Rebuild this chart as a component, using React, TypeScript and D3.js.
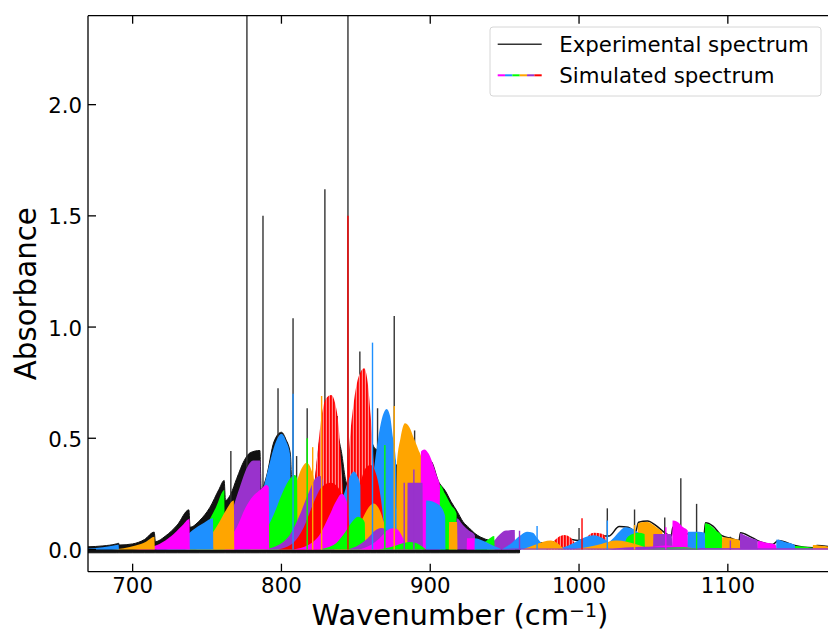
import React from "react";
import * as d3 from "d3";

// ---- data (wavenumber, absorbance) ----
const xTicks = [700, 800, 900, 1000, 1100];
const yTicks = [0, 0.5, 1.0, 1.5, 2.0];

const COLORS: Record<string, string> = {
  B: "#1e90ff",
  O: "#ffa500",
  M: "#ff00ff",
  G: "#00ff00",
  P: "#9932cc",
  R: "#ff0000",
};
const legendColors = ["M", "B", "G", "O", "P", "R"];

// experimental envelope, 670-960 (dense noisy trace, drawn as a filled band)
const expEnvelope: [number, number][] = [
  [670, 0.012], [680, 0.016], [689, 0.025], [690.5, 0.028], [691.2, 0.02],
  [700, 0.025], [708, 0.045], [714.5, 0.078], [715.3, 0.035], [722, 0.06],
  [730, 0.11], [737.8, 0.178], [738.6, 0.1], [745, 0.13], [752, 0.19],
  [758, 0.27], [761.5, 0.31], [762.4, 0.22], [766, 0.25], [770, 0.32],
  [775, 0.4], [779, 0.435], [785.5, 0.445], [786.4, 0.27], [790, 0.33],
  [795, 0.485], [800, 0.527], [803, 0.495], [806, 0.43], [807, 0.3],
  [810, 0.3], [817, 0.36], [822, 0.3], [826, 0.5], [833, 0.6],
  [840, 0.45], [844, 0.3], [848, 0.33], [852, 0.6], [856, 0.7],
  [860, 0.5], [864, 0.45], [870, 0.55], [876, 0.38], [878, 0.38],
  [883, 0.5], [890, 0.45], [895, 0.4], [900, 0.4], [906, 0.3],
  [910, 0.265], [914, 0.215], [918, 0.172], [922, 0.125], [926, 0.098],
  [930, 0.072], [934, 0.055], [940, 0.04], [946, 0.028], [952, 0.018],
  [958, 0.01], [960, 0.006],
];

// experimental trace beyond 960
const expTail: [number, number][] = [
  [960, 0.0], [970, 0.03], [980, 0.03], [990, 0.05], [1000, 0.04],
  [1010, 0.06], [1020, 0.06], [1027, 0.103], [1033, 0.1], [1038, 0.08],
  [1040, 0.122], [1046, 0.128], [1052, 0.106], [1056, 0.084], [1062, 0.06],
  [1063, 0.1], [1070, 0.09], [1073, 0.07], [1080, 0.07], [1084, 0.07],
  [1085, 0.12], [1090, 0.105], [1096, 0.062], [1102, 0.05], [1107.5, 0.04],
  [1108.5, 0.075], [1115, 0.058], [1120, 0.04], [1130, 0.022], [1134, 0.04],
  [1145, 0.018], [1157, 0.008], [1160, 0.018], [1170, 0.01],
];

// sharp experimental lines
const expSpikes: [number, number][] = [
  [766, 0.443], [776.8, 2.5], [787.6, 1.5], [797.7, 0.725], [807.8, 1.04],
  [810.2, 0.42], [817.3, 0.635], [829.2, 1.62], [837.5, 0.6], [844.7, 2.5],
  [852.7, 0.89], [864.6, 0.635], [875.8, 1.05], [889.5, 0.535],
  [1000, 0.097], [1019, 0.185], [1037.3, 0.18], [1057.6, 0.144],
  [1068.4, 0.32], [1079, 0.205], [1101.7, 0.057],
];

// simulated vibrational bands: [colour, striped, outline points]
const simBands: [string, boolean, [number, number][]][] = [
  ["B", false, [[668, 0.004], [680, 0.01], [689, 0.02], [690.5, 0.022], [690.8, 0]]],
  ["O", false, [[686, 0], [694, 0.006], [702, 0.018], [709, 0.035], [714.6, 0.057], [714.9, 0]]],
  ["M", false, [[700, 0], [710, 0.008], [718, 0.025], [726, 0.06], [733, 0.105], [738.2, 0.137], [738.5, 0]]],
  ["B", false, [[715, 0], [725, 0.015], [733, 0.045], [740, 0.085], [748, 0.12], [754, 0.14], [754.3, 0]]],
  ["G", false, [[722, 0], [732, 0.012], [741, 0.045], [749, 0.105], [756, 0.19], [761.6, 0.267], [761.9, 0]]],
  ["O", false, [[735, 0], [745, 0.02], [752, 0.06], [758, 0.12], [763, 0.18], [768, 0.22], [768.3, 0]]],
  ["P", false, [[742, 0], [752, 0.02], [760, 0.07], [766, 0.16], [772, 0.28], [777, 0.37], [781, 0.4], [785.8, 0.4], [786.1, 0]]],
  ["M", false, [[752, 0], [762, 0.03], [770, 0.1], [776, 0.19], [781, 0.24], [786, 0.27], [790, 0.29], [791.5, 0.28], [791.8, 0]]],
  ["B", false, [[760, 0], [770, 0.02], [778, 0.08], [785, 0.2], [791, 0.36], [796, 0.48], [800, 0.52], [803, 0.49], [806, 0.42], [806.3, 0]]],
  ["G", false, [[770, 0], [780, 0.02], [788, 0.07], [795, 0.16], [801, 0.26], [806, 0.32], [809, 0.335], [810.5, 0.32], [810.8, 0]]],
  ["O", false, [[778, 0], [788, 0.02], [796, 0.07], [803, 0.16], [809, 0.28], [814, 0.37], [817, 0.39], [820, 0.36], [822, 0.31], [822.3, 0]]],
  ["P", false, [[788, 0], [798, 0.02], [806, 0.07], [812, 0.15], [818, 0.25], [823, 0.32], [826, 0.33], [828, 0.31], [828.3, 0]]],
  ["R", false, [[798, 0], [808, 0.03], [815, 0.1], [821, 0.2], [827, 0.28], [833, 0.3], [838, 0.28], [842, 0.22], [845, 0.14], [847, 0]]],
  ["R", true, [[815, 0], [820, 0.15], [824, 0.42], [827, 0.6], [830, 0.68], [833.5, 0.695], [836, 0.66], [838.5, 0.55], [840, 0.4], [842, 0.2], [844, 0]]],
  ["M", false, [[808, 0], [818, 0.02], [826, 0.07], [832, 0.15], [837, 0.22], [840.5, 0.25], [843, 0.23], [845, 0.18], [845.3, 0]]],
  ["B", false, [[815, 0], [825, 0.02], [832, 0.07], [838, 0.16], [843, 0.27], [847, 0.34], [849, 0.35], [851, 0.33], [853, 0.29], [853.3, 0]]],
  ["R", false, [[835, 0], [843, 0.06], [848, 0.16], [853, 0.3], [857, 0.37], [860, 0.38], [864, 0.33], [867, 0.22], [869, 0.1], [871, 0]]],
  ["R", true, [[840, 0], [843, 0.2], [846, 0.5], [849, 0.68], [852, 0.78], [855.6, 0.815], [858, 0.75], [860, 0.6], [862, 0.4], [864, 0.2], [866, 0]]],
  ["G", false, [[825, 0], [835, 0.02], [842, 0.07], [847, 0.12], [851.5, 0.147], [854, 0.14], [856, 0.12], [856.3, 0]]],
  ["O", false, [[835, 0], [845, 0.03], [851, 0.09], [856, 0.16], [860, 0.2], [862, 0.207], [865, 0.19], [868, 0.14], [869.5, 0.1], [869.8, 0]]],
  ["B", false, [[850, 0], [855, 0.05], [859, 0.18], [862, 0.35], [865, 0.5], [868, 0.6], [870.7, 0.632], [873, 0.6], [875, 0.5], [877, 0.4], [878, 0]]],
  ["P", false, [[845, 0], [852, 0.02], [858, 0.05], [863, 0.085], [867, 0.096], [870, 0.09], [873, 0.07], [873.3, 0]]],
  ["M", false, [[852, 0], [860, 0.02], [866, 0.05], [871, 0.085], [875, 0.095], [878, 0.09], [881, 0.06], [883, 0.03], [885, 0]]],
  ["G", false, [[865, 0], [873, 0.01], [880, 0.025], [886, 0.034], [890, 0.03], [894, 0.015], [897, 0]]],
  ["O", false, [[877.3, 0], [877.6, 0.38], [880, 0.5], [883, 0.567], [886, 0.55], [889, 0.5], [892, 0.45], [894.5, 0.4], [894.8, 0]]],
  ["P", false, [[884.6, 0], [884.8, 0.3], [894.8, 0.3], [895, 0]]],
  ["M", false, [[893.5, 0], [893.8, 0.44], [896, 0.45], [899, 0.43], [902, 0.38], [905, 0.32], [906.5, 0.29], [906.8, 0]]],
  ["B", false, [[897, 0], [897.3, 0.22], [906, 0.2], [910, 0.15], [910.3, 0]]],
  ["G", false, [[906.4, 0], [906.6, 0.29], [910, 0.25], [914, 0.2], [917.7, 0.162], [918, 0]]],
  ["O", false, [[912.5, 0], [912.7, 0.124], [918, 0.124], [918.3, 0]]],
  ["P", false, [[917.6, 0], [917.8, 0.14], [922, 0.11], [926, 0.085], [930, 0.064], [930.3, 0]]],
  ["M", false, [[924.5, 0], [924.7, 0.05], [930, 0.05], [930.3, 0]]],
  ["B", false, [[929.8, 0], [930, 0.05], [935, 0.04], [940, 0.025], [945, 0.01], [948, 0]]],
  ["G", false, [[930, 0], [934, 0.02], [938, 0.04], [941, 0.055], [943, 0.06], [943.3, 0]]],
  ["P", false, [[938, 0], [943, 0.04], [947, 0.07], [951, 0.085], [956.8, 0.087], [957, 0]]],
  ["B", false, [[948, 0], [955, 0.03], [960, 0.06], [965, 0.08], [969, 0.075], [972, 0.05], [976, 0.02], [980, 0]]],
  ["O", false, [[962, 0], [970, 0.02], [976, 0.035], [981, 0.04], [985, 0.03], [990, 0]]],
  ["R", true, [[978, 0], [982, 0.03], [986, 0.055], [990, 0.065], [994, 0.055], [997, 0.03], [1000, 0]]],
  ["B", false, [[985, 0], [992, 0.015], [998, 0.035], [1004, 0.055], [1010, 0.064], [1016, 0.05], [1020, 0.03], [1025, 0]]],
  ["R", true, [[1005, 0], [1006, 0.06], [1010, 0.075], [1016, 0.07], [1018, 0.05], [1019, 0]]],
  ["O", false, [[995, 0], [1005, 0.01], [1015, 0.025], [1025, 0.04], [1032, 0.035], [1040, 0.02], [1048, 0]]],
  ["B", false, [[1012, 0], [1018, 0.02], [1023, 0.05], [1027, 0.08], [1031, 0.1], [1035, 0.095], [1039, 0.08], [1042, 0.06], [1042.3, 0]]],
  ["G", false, [[1030, 0], [1032, 0.05], [1036, 0.07], [1040, 0.075], [1044, 0.07], [1044.3, 0]]],
  ["O", false, [[1039.3, 0], [1039.5, 0.115], [1042, 0.122], [1046, 0.124], [1050, 0.11], [1054, 0.09], [1056, 0.08], [1056.3, 0]]],
  ["P", false, [[1049.8, 0], [1050, 0.07], [1062, 0.07], [1063, 0]]],
  ["M", false, [[1062.7, 0], [1062.9, 0.13], [1066, 0.125], [1070, 0.1], [1073, 0.085], [1073.3, 0]]],
  ["B", false, [[1073, 0], [1073.2, 0.08], [1080, 0.08], [1084.5, 0.075], [1084.8, 0]]],
  ["G", false, [[1084.5, 0], [1084.7, 0.118], [1088, 0.11], [1092, 0.085], [1096, 0.06], [1096.3, 0]]],
  ["O", false, [[1096, 0], [1096.2, 0.055], [1102, 0.05], [1108, 0.04], [1108.3, 0]]],
  ["P", false, [[1108, 0], [1108.2, 0.073], [1112, 0.062], [1116, 0.05], [1120, 0.04], [1120.3, 0]]],
  ["M", false, [[1120, 0], [1120.2, 0.038], [1126, 0.03], [1132, 0.022], [1132.8, 0]]],
  ["B", false, [[1132.5, 0], [1132.7, 0.045], [1138, 0.035], [1145, 0.02], [1145.3, 0]]],
  ["G", false, [[1145, 0], [1145.2, 0.015], [1157, 0.008], [1157.3, 0]]],
  ["O", false, [[1157, 0], [1157.2, 0.02], [1165, 0.015], [1172, 0.01]]],
  ["M", false, [[1030, 0], [1045, 0.01], [1058, 0.018], [1068, 0.015], [1080, 0]]],
  ["G", false, [[1045, 0], [1060, 0.008], [1070, 0.01], [1082, 0]]],
  ["P", false, [[1020, 0], [1035, 0.01], [1050, 0.012], [1065, 0.01], [1080, 0.005], [1172, 0.004]]],
  ["P", false, [[940, 0], [960, 0.004], [1172, 0.004]]],
];

// strong simulated lines: [wavenumber, absorbance, colour]
const simSticks: [number, number, string][] = [
  [807.8, 0.7, "B"], [817.3, 0.5, "G"], [821, 0.46, "O"], [827, 0.69, "O"],
  [844.7, 1.5, "R"], [861.2, 0.93, "B"], [869.5, 0.47, "G"], [875.8, 0.645, "O"],
  [882.5, 0.3, "P"], [889, 0.36, "P"], [960, 0.084, "P"], [971.8, 0.105, "B"],
  [1002, 0.14, "R"], [1019, 0.13, "B"], [1037.3, 0.11, "O"], [1058.3, 0.1, "M"],
  [1079, 0.075, "G"], [1101.7, 0.04, "P"],
];

const FONT = "DejaVu Sans, sans-serif";

export default function App() {
  const W = 828;
  const H = 632;
  const left = 88;
  const top = 15.7;
  const bottom = 571.7;
  const right = 832;

  const x = d3.scaleLinear().domain([670, 1170]).range([left, right]);
  const y = d3.scaleLinear().domain([-0.1, 2.4]).range([bottom, top]);

  const bandArea = d3
    .area<[number, number]>()
    .x((d) => x(d[0]))
    .y0(y(0))
    .y1((d) => y(d[1]))
    .curve(d3.curveMonotoneX);

  const expArea = d3
    .area<[number, number]>()
    .x((d) => x(d[0]))
    .y0(y(-0.015))
    .y1((d) => y(d[1]))
    .curve(d3.curveMonotoneX);

  const expLine = d3
    .line<[number, number]>()
    .x((d) => x(d[0]))
    .y((d) => y(d[1]))
    .curve(d3.curveMonotoneX);

  // taller bands first, smaller ones on top
  const bands = [...simBands].sort(
    (a, b) => (d3.max(b[2], (d) => d[1]) ?? 0) - (d3.max(a[2], (d) => d[1]) ?? 0)
  );

  const segW = 44 / legendColors.length;

  return (
    <div style={{ position: "absolute", left: 0, top: 0 }}>
      <svg width={W} height={H} style={{ display: "block", background: "#fff" }}>
        <defs>
          <clipPath id="plot">
            <rect x={left} y={top} width={right - left} height={bottom - top} />
          </clipPath>
          <pattern id="redStripe" patternUnits="userSpaceOnUse" width={3} height={10}>
            <rect width={3} height={10} fill="#ff8c8c" />
            <rect width={1.8} height={10} fill="#ff0000" />
          </pattern>
        </defs>

        <g clipPath="url(#plot)">
          {/* experimental */}
          <path d={expArea(expEnvelope) ?? ""} fill="#111" stroke="#111" strokeWidth={1} />
          <path d={expLine(expTail) ?? ""} fill="none" stroke="#111" strokeWidth={1.5} />
          {expSpikes.map(([wn, a], i) => (
            <line
              key={"s" + i}
              x1={x(wn)}
              x2={x(wn)}
              y1={y(0)}
              y2={y(a)}
              stroke="#333"
              strokeWidth={1.4}
            />
          ))}

          {/* simulated */}
          {bands.map(([c, striped, pts], i) => (
            <path
              key={"b" + i}
              d={bandArea(pts) ?? ""}
              fill={striped ? "url(#redStripe)" : COLORS[c]}
            />
          ))}
          {simSticks.map(([wn, a, c], i) => (
            <line
              key={"k" + i}
              x1={x(wn)}
              x2={x(wn)}
              y1={y(0)}
              y2={y(a)}
              stroke={COLORS[c]}
              strokeWidth={1.4}
            />
          ))}
        </g>

        {/* spines */}
        <g stroke="#000" strokeWidth={1.3} fill="none">
          <line x1={left} x2={left} y1={top} y2={bottom} />
          <line x1={left} x2={right} y1={bottom} y2={bottom} />
          <line x1={left} x2={right} y1={top} y2={top} />
        </g>

        {/* x ticks (inward, bottom and top) */}
        {xTicks.map((t) => (
          <g key={"xt" + t}>
            <line x1={x(t)} x2={x(t)} y1={bottom} y2={bottom - 8} stroke="#000" strokeWidth={1.3} />
            <line x1={x(t)} x2={x(t)} y1={top} y2={top + 8} stroke="#000" strokeWidth={1.3} />
            <text
              x={x(t)}
              y={592.7}
              textAnchor="middle"
              fontFamily={FONT}
              fontSize={21.3}
              fill="#000"
            >
              {t}
            </text>
          </g>
        ))}

        {/* y ticks */}
        {yTicks.map((t) => (
          <g key={"yt" + t}>
            <line x1={left} x2={left + 8} y1={y(t)} y2={y(t)} stroke="#000" strokeWidth={1.3} />
            <text
              x={82}
              y={y(t) + 8.6}
              textAnchor="end"
              fontFamily={FONT}
              fontSize={21.3}
              fill="#000"
            >
              {d3.format(".1f")(t)}
            </text>
          </g>
        ))}

        {/* axis labels */}
        <text
          x={(left + right) / 2}
          y={625}
          textAnchor="middle"
          fontFamily={FONT}
          fontSize={29}
          fill="#000"
        >
          Wavenumber (cm
          <tspan fontSize={19} dy={-8.5}>
            −1
          </tspan>
          <tspan dy={8.5}>)</tspan>
        </text>
        <text
          transform={`translate(36, ${(top + bottom) / 2}) rotate(-90)`}
          textAnchor="middle"
          fontFamily={FONT}
          fontSize={29.3}
          fill="#000"
        >
          Absorbance
        </text>

        {/* legend */}
        <g>
          <rect
            x={490}
            y={27}
            width={331}
            height={69}
            rx={3}
            fill="#fff"
            fillOpacity={0.8}
            stroke="#d6d6d6"
            strokeWidth={1}
          />
          <line x1={497.7} x2={541.7} y1={44.3} y2={44.3} stroke="#333" strokeWidth={1.5} />
          <text x={559.3} y={52.3} fontFamily={FONT} fontSize={21.3} fill="#000">
            Experimental spectrum
          </text>
          {legendColors.map((c, i) => (
            <line
              key={"lg" + c}
              x1={497.7 + i * segW}
              x2={497.7 + (i + 1) * segW}
              y1={75.3}
              y2={75.3}
              stroke={COLORS[c]}
              strokeWidth={2}
            />
          ))}
          <text x={559.3} y={83.3} fontFamily={FONT} fontSize={21.3} fill="#000">
            Simulated spectrum
          </text>
        </g>
      </svg>
    </div>
  );
}
